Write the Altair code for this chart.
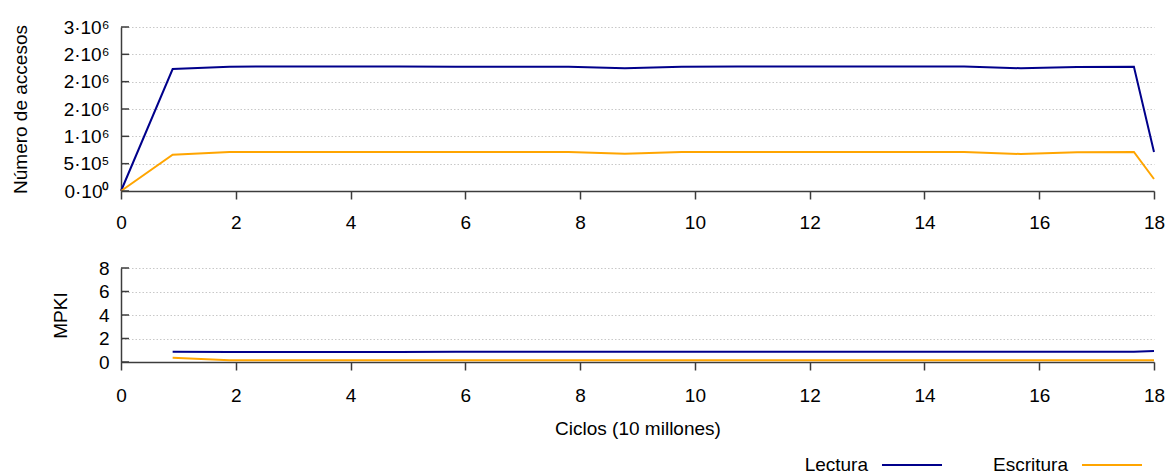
import altair as alt
import pandas as pd

# Sample positions along the run (x axis, units of 10 million cycles)
cycles = [0.0, 0.9, 1.89, 2.87, 3.86, 4.84, 5.83, 6.81, 7.8, 8.78,
          9.77, 10.75, 11.74, 12.72, 13.71, 14.69, 15.68, 16.66, 17.65, 18.0]

# Number of accesses per interval
reads = [0, 2230000, 2275000, 2277000, 2277000, 2277000, 2275000, 2275000, 2275000, 2245000,
         2275000, 2277000, 2277000, 2277000, 2277000, 2277000, 2245000, 2270000, 2272000, 713000]
writes = [0, 664000, 713000, 713000, 713000, 713000, 713000, 713000, 713000, 680000,
          713000, 713000, 713000, 713000, 713000, 713000, 677000, 710000, 713000, 220000]

# MPKI starts at the first sample after 0
mpki_cycles = [0.9, 1.89, 2.87, 3.86, 4.84, 5.83, 6.81, 7.8, 8.78, 9.77,
               10.75, 11.74, 12.72, 13.71, 14.69, 15.68, 16.66, 17.65, 18.0]
mpki_reads = [0.87, 0.86, 0.86, 0.86, 0.86, 0.88, 0.88, 0.88, 0.87, 0.87,
              0.87, 0.87, 0.87, 0.87, 0.87, 0.87, 0.87, 0.87, 0.93]
mpki_writes = [0.36, 0.14, 0.14, 0.14, 0.14, 0.14, 0.14, 0.14, 0.14, 0.14,
               0.14, 0.14, 0.14, 0.14, 0.14, 0.14, 0.14, 0.14, 0.14]

series = ["Lectura", "Escritura"]
colors = ["#00008b", "#ffa500"]

x_ticks = [0, 2, 4, 6, 8, 10, 12, 14, 16, 18]
acc_ticks = [0, 500000, 1000000, 1500000, 2000000, 2500000, 3000000]
acc_tick_labels = ["0·10⁰", "5·10⁵", "1·10⁶", "2·10⁶", "2·10⁶", "2·10⁶", "3·10⁶"]
mpki_ticks = [0, 2, 4, 6, 8]

FONT = "Liberation Sans"
FS = 19
AXIS_COLOR = "#3c3c3c"

acc_df = pd.DataFrame({
    "ciclos": cycles * 2,
    "valor": reads + writes,
    "serie": [series[0]] * len(cycles) + [series[1]] * len(cycles),
})
mpki_df = pd.DataFrame({
    "ciclos": mpki_cycles * 2,
    "valor": mpki_reads + mpki_writes,
    "serie": [series[0]] * len(mpki_cycles) + [series[1]] * len(mpki_cycles),
})

label_expr = " : ".join(
    f"datum.value == {v} ? '{l}'" for v, l in zip(acc_ticks, acc_tick_labels)
) + " : ''"

color = alt.Color("serie:N", scale=alt.Scale(domain=series, range=colors), legend=None)

W = 1033
H_TOP = 164
H_BOT = 94

x_scale = alt.Scale(domain=[0, 18], nice=False, zero=False)


def x_axis(pad, title=None):
    kw = dict(values=x_ticks, tickSize=8, labelPadding=pad, grid=False,
              labelFlush=False, labelOverlap=False, format="d")
    if title:
        kw.update(title=title, titlePadding=14)
    else:
        kw.update(title=None)
    return alt.Axis(**kw)


# Top panel: number of accesses
acc_scale = alt.Scale(domain=[0, 3000000], nice=False)
acc_axis = alt.Axis(values=acc_ticks, labelExpr=label_expr, ticks=False,
                    labelOverlap=False, labelPadding=12,
                    gridDash=[1.5, 2], gridColor="#c8c8c8",
                    title="Número de accesos", titleX=-101, titleY=H_TOP / 2,
                    titleAlign="center", titleBaseline="middle", titleAngle=-90)

acc_lines = alt.Chart(acc_df).mark_line(strokeWidth=2).encode(
    x=alt.X("ciclos:Q", scale=x_scale, axis=x_axis(14)),
    y=alt.Y("valor:Q", scale=acc_scale, axis=acc_axis),
    color=color,
)
# inward-pointing tick marks on the y axis
acc_tick_rules = alt.Chart(pd.DataFrame({"valor": acc_ticks})).mark_rule(
    color=AXIS_COLOR, strokeWidth=1.5
).encode(y=alt.Y("valor:Q", scale=acc_scale, axis=acc_axis),
         x=alt.value(0), x2=alt.value(8))

top = alt.layer(acc_lines, acc_tick_rules).properties(width=W, height=H_TOP)

# Bottom panel: MPKI
mpki_scale = alt.Scale(domain=[0, 8], nice=False)
mpki_axis = alt.Axis(values=mpki_ticks, ticks=False, labelPadding=12,
                     labelOverlap=False,
                     gridDash=[1.5, 2], gridColor="#c8c8c8",
                     title="MPKI", titleX=-61, titleY=H_BOT / 2,
                     titleAlign="center", titleBaseline="middle", titleAngle=-90)

mpki_lines = alt.Chart(mpki_df).mark_line(strokeWidth=2).encode(
    x=alt.X("ciclos:Q", scale=x_scale, axis=x_axis(16, "Ciclos (10 millones)")),
    y=alt.Y("valor:Q", scale=mpki_scale, axis=mpki_axis),
    color=color,
)
mpki_tick_rules = alt.Chart(pd.DataFrame({"valor": mpki_ticks})).mark_rule(
    color=AXIS_COLOR, strokeWidth=1.5
).encode(y=alt.Y("valor:Q", scale=mpki_scale, axis=mpki_axis),
         x=alt.value(0), x2=alt.value(8))

# Key below the lower panel: label first, then a line sample
LEG_Y = 197
key_layers = []
for name, col, text_right in zip(series, colors, [747, 947]):
    key_df = pd.DataFrame({"serie": [name]})
    key_layers.append(
        alt.Chart(key_df).mark_text(align="right", baseline="middle", font=FONT,
                                    fontSize=FS, color="#000000").encode(
            text="serie:N", x=alt.value(text_right), y=alt.value(LEG_Y))
    )
    key_layers.append(
        alt.Chart(key_df).mark_rule(color=col, strokeWidth=2).encode(
            x=alt.value(text_right + 14), x2=alt.value(text_right + 74),
            y=alt.value(LEG_Y))
    )

bottom = alt.layer(mpki_lines, mpki_tick_rules, *key_layers).properties(width=W, height=H_BOT)

chart = alt.vconcat(top, bottom, spacing=27).properties(
    padding={"left": 10, "top": 18, "right": 5, "bottom": 5}
).configure_view(stroke=None).configure_axis(
    labelFont=FONT, labelFontSize=FS, labelColor="#000000",
    titleFont=FONT, titleFontSize=FS, titleFontWeight="normal", titleColor="#000000",
    domainColor=AXIS_COLOR, domainWidth=1.5, tickColor=AXIS_COLOR, tickWidth=1.5,
).configure_axisY(domain=True)

chart.save("out.html", embed_options={"renderer": "svg", "actions": False})
